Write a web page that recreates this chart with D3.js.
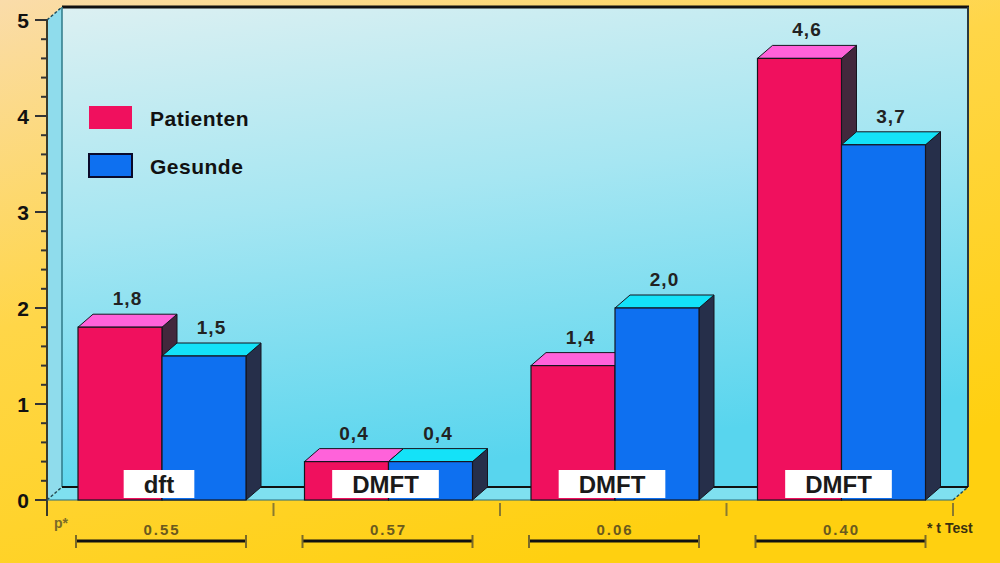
<!DOCTYPE html>
<html>
<head>
<meta charset="utf-8">
<script src="https://cdn.jsdelivr.net/npm/d3@7"></script>
<style>
  html, body { margin: 0; padding: 0; }
  svg { display: block; font-family: "Liberation Sans", Arial, sans-serif; }
</style>
</head>
<body>
<svg id="chart" width="1000" height="563"></svg>
<script>
// Chart data
var categories = ["dft", "DMFT", "DMFT", "DMFT"];
var series = ["Patienten", "Gesunde"];
var patienten = [1.8, 0.4, 1.4, 4.6];
var gesunde = [1.5, 0.4, 2.0, 3.7];
var pValues = ["0.55", "0.57", "0.06", "0.40"];
var yTicks = [0, 1, 2, 3, 4, 5];

var width = 1000,
    height = 563,
    depthX = 15,
    depthY = -13;

var colors = {
  Patienten: { front: "#f0105e", top: "#ff62da", side: "#42283c" },
  Gesunde:   { front: "#0e70f0", top: "#14e2f8", side: "#262f4a" }
};

var svg = d3.select("#chart");
var defs = svg.append("defs");

// background gradient (peach -> yellow)
var bg = defs.append("linearGradient").attr("id", "bg")
  .attr("x1", 0).attr("y1", 0).attr("x2", 0.55).attr("y2", 1);
bg.append("stop").attr("offset", "0%").attr("stop-color", "#fadcaa");
bg.append("stop").attr("offset", "45%").attr("stop-color", "#ffd648");
bg.append("stop").attr("offset", "100%").attr("stop-color", "#ffd010");

// back wall gradient (pale -> cyan)
var wall = defs.append("linearGradient").attr("id", "wall")
  .attr("x1", 0).attr("y1", 0).attr("x2", 0.25).attr("y2", 1);
wall.append("stop").attr("offset", "0%").attr("stop-color", "#dcf0f2");
wall.append("stop").attr("offset", "45%").attr("stop-color", "#a6e6f2");
wall.append("stop").attr("offset", "100%").attr("stop-color", "#58d5ee");

svg.append("rect").attr("width", width).attr("height", height).attr("fill", "url(#bg)");

// Scales
var y = d3.scaleLinear().domain([0, 5]).range([500, 20]);
var x0 = d3.scaleBand().domain(d3.range(categories.length)).range([47, 953]);
var x1 = d3.scaleBand().domain(series).range([31, 199]);

var left = x0.range()[0], right = x0.range()[1];
var y0 = y(0), yTop = y(5);

// side wall + back wall + floor
svg.append("polygon")
  .attr("points", [[left, yTop], [left + depthX, yTop + depthY], [left + depthX, y0 + depthY], [left, y0]].join(" "))
  .attr("fill", "#8fdcec");

svg.append("rect")
  .attr("x", left + depthX).attr("y", yTop + depthY)
  .attr("width", right - left).attr("height", y0 - yTop)
  .attr("fill", "url(#wall)");

svg.append("polygon")
  .attr("points", [[left, y0], [left + depthX, y0 + depthY], [right + depthX, y0 + depthY], [right, y0]].join(" "))
  .attr("fill", "#7fe0f0");

// wall borders
svg.append("line")
  .attr("x1", left + depthX).attr("x2", right + depthX + 1)
  .attr("y1", yTop + depthY).attr("y2", yTop + depthY)
  .attr("stroke", "#111").attr("stroke-width", 3);
svg.append("line")
  .attr("x1", right + depthX).attr("x2", right + depthX)
  .attr("y1", yTop + depthY).attr("y2", y0 + depthY)
  .attr("stroke", "#2a3a40").attr("stroke-width", 2);
svg.append("line")
  .attr("x1", left + depthX).attr("x2", left + depthX)
  .attr("y1", yTop + depthY).attr("y2", y0 + depthY)
  .attr("stroke", "#2e7a88").attr("stroke-width", 1.5);
svg.append("line")
  .attr("x1", left + depthX).attr("x2", right + depthX)
  .attr("y1", y0 + depthY).attr("y2", y0 + depthY)
  .attr("stroke", "#111").attr("stroke-width", 2);
svg.append("path")
  .attr("d", "M" + left + "," + yTop + "L" + (left + depthX) + "," + (yTop + depthY) +
             "M" + left + "," + y0 + "L" + (left + depthX) + "," + (y0 + depthY) +
             "M" + right + "," + y0 + "L" + (right + depthX) + "," + (y0 + depthY))
  .attr("stroke", "#1f4a5a").attr("stroke-width", 1.5).attr("stroke-dasharray", "3,2").attr("fill", "none");

// Y axis
var yAxis = svg.append("g").attr("transform", "translate(" + left + ",0)");
yAxis.append("line").attr("y1", yTop).attr("y2", y0 + 16)
  .attr("stroke", "#3a3a2a").attr("stroke-width", 2);
yAxis.selectAll(".minor").data(d3.range(0, 5.01, 0.2).filter(function(v) { return Math.abs(v - Math.round(v)) > 0.01; }))
  .enter().append("line")
  .attr("x1", -6).attr("x2", 0)
  .attr("y1", function(d) { return y(d); }).attr("y2", function(d) { return y(d); })
  .attr("stroke", "#333").attr("stroke-width", 2);
yAxis.selectAll(".major").data(yTicks).enter().append("line")
  .attr("x1", -12).attr("x2", 0)
  .attr("y1", function(d) { return y(d); }).attr("y2", function(d) { return y(d); })
  .attr("stroke", "#333").attr("stroke-width", 2);
yAxis.selectAll("text").data(yTicks).enter().append("text")
  .attr("x", -24).attr("y", function(d) { return y(d); })
  .attr("dy", "0.36em")
  .attr("text-anchor", "middle")
  .attr("font-size", 21).attr("font-weight", "bold").attr("fill", "#111")
  .text(function(d) { return d; });

// floor front edge
svg.append("line").attr("x1", left).attr("x2", right).attr("y1", y0).attr("y2", y0)
  .attr("stroke", "#2a6a7a").attr("stroke-width", 1);

// category boundary ticks
svg.selectAll(".ctick").data(d3.range(1, categories.length + 1)).enter().append("line")
  .attr("x1", function(i) { return left + i * x0.step(); })
  .attr("x2", function(i) { return left + i * x0.step(); })
  .attr("y1", y0 + 3).attr("y2", y0 + 16)
  .attr("stroke", "#8a7a30").attr("stroke-width", 2);

// Bars
var fmt = function(v) { return d3.format(".1f")(v).replace(".", ","); };
var bars = [];
categories.forEach(function(c, i) {
  bars.push({ i: i, s: "Patienten", v: patienten[i] });
  bars.push({ i: i, s: "Gesunde", v: gesunde[i] });
});

var bw = x1.bandwidth();
var barG = svg.selectAll(".bar").data(bars).enter().append("g").attr("class", "bar");

barG.each(function(d) {
  var g = d3.select(this);
  var bx = x0(d.i) + x1(d.s), by = y(d.v);
  var c = colors[d.s];
  g.append("polygon")
    .attr("points", [[bx + bw, by], [bx + bw + depthX, by + depthY], [bx + bw + depthX, y0 + depthY], [bx + bw, y0]].join(" "))
    .attr("fill", c.side).attr("stroke", "#15151f").attr("stroke-width", 1);
  g.append("polygon")
    .attr("points", [[bx, by], [bx + depthX, by + depthY], [bx + bw + depthX, by + depthY], [bx + bw, by]].join(" "))
    .attr("fill", c.top).attr("stroke", "#15151f").attr("stroke-width", 1);
  g.append("rect")
    .attr("x", bx).attr("y", by).attr("width", bw).attr("height", y0 - by)
    .attr("fill", c.front).attr("stroke", "#15151f").attr("stroke-width", 1.2);
});

// value labels
svg.selectAll(".val").data(bars).enter().append("text")
  .attr("x", function(d) { return x0(d.i) + x1(d.s) + bw / 2 + depthX / 2; })
  .attr("y", function(d) { return y(d.v) + depthY - 9; })
  .attr("text-anchor", "middle")
  .attr("font-size", 19).attr("font-weight", "bold").attr("fill", "#222")
  .attr("letter-spacing", 1)
  .text(function(d) { return fmt(d.v); });

// category label boxes
var catG = svg.selectAll(".cat").data(categories).enter().append("g")
  .attr("transform", function(d, i) { return "translate(" + (x0(i) + x1("Gesunde") - 3) + "," + (y0 - 16) + ")"; });
catG.append("rect").attr("class", "box").attr("fill", "#fff");
catG.append("text")
  .attr("text-anchor", "middle").attr("dy", "0.36em")
  .attr("font-size", 24).attr("font-weight", "bold").attr("fill", "#1a1a1a")
  .text(function(d) { return d; });
catG.each(function() {
  var g = d3.select(this);
  var w = g.select("text").node().getComputedTextLength() + 40;
  g.select("rect").attr("x", -w / 2).attr("y", -14).attr("width", w).attr("height", 28);
});

// p values and brackets
svg.selectAll(".pval").data(pValues).enter().append("text")
  .attr("x", function(d, i) { return x0(i) + x1("Gesunde"); })
  .attr("y", 535)
  .attr("text-anchor", "middle")
  .attr("font-size", 15).attr("font-weight", "bold").attr("fill", "#6a5a1e")
  .attr("letter-spacing", 2)
  .text(function(d) { return d; });

var brG = svg.selectAll(".br").data(pValues).enter().append("g");
brG.append("line")
  .attr("x1", function(d, i) { return x0(i) + x1("Patienten") - 2; })
  .attr("x2", function(d, i) { return x0(i) + x1("Gesunde") + bw; })
  .attr("y1", 541).attr("y2", 541)
  .attr("stroke", "#111").attr("stroke-width", 3);
brG.append("path")
  .attr("d", function(d, i) {
    var a = x0(i) + x1("Patienten") - 2, b = x0(i) + x1("Gesunde") + bw;
    return "M" + a + ",535V548M" + b + ",535V548";
  })
  .attr("stroke", "#7a6a28").attr("stroke-width", 2).attr("fill", "none");

svg.append("text").attr("x", 54).attr("y", 528)
  .attr("font-size", 14).attr("font-weight", "bold").attr("fill", "#7a6a28")
  .text("p*");
svg.append("text").attr("x", 927).attr("y", 533)
  .attr("font-size", 14).attr("font-weight", "bold").attr("fill", "#3a3010")
  .text("* t Test");

// Legend
var legend = svg.selectAll(".legend").data(series).enter().append("g")
  .attr("transform", function(d, i) { return "translate(89," + (106 + i * 48) + ")"; });
legend.append("rect")
  .attr("width", 43).attr("height", 23)
  .attr("fill", function(d) { return colors[d].front; })
  .attr("stroke", function(d, i) { return i ? "#0a0a2a" : "none"; })
  .attr("stroke-width", 2);
legend.append("text")
  .attr("x", 61).attr("y", 12).attr("dy", "0.36em")
  .attr("font-size", 21).attr("font-weight", "bold").attr("fill", "#111")
  .attr("letter-spacing", 0.5)
  .text(function(d) { return d; });
</script>
</body>
</html>
